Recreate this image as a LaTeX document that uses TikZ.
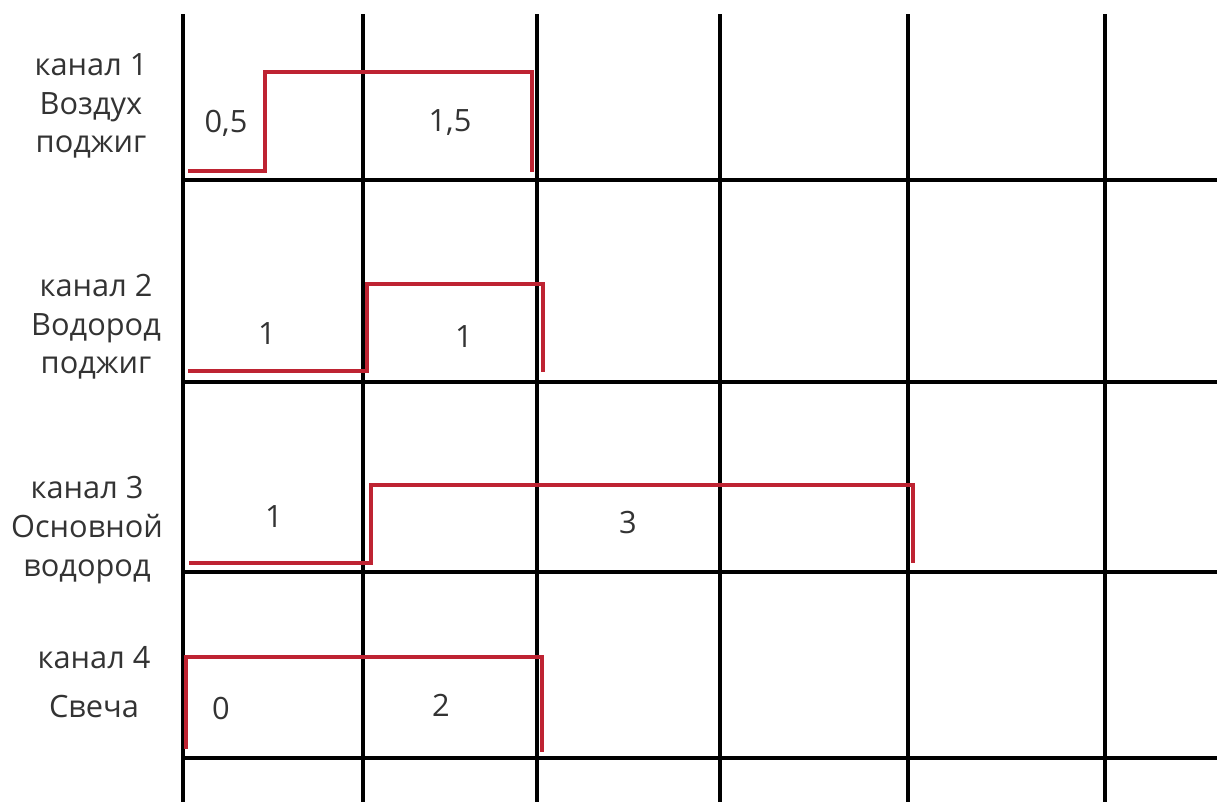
\documentclass[tikz,border=0pt]{standalone}
\usepackage{fontspec}
\setmainfont{Open Sans}
\usepackage{tikz}
\usetikzlibrary{positioning}
\definecolor{sigred}{RGB}{190,35,50}
\tikzset{
  gridline/.style={line width=2.7pt,black},
  signal/.style={line width=2.6pt,sigred,line join=miter},
  chlabel/.style={align=center,inner sep=0pt,text=black!80,font=\fontsize{17.5}{22}\selectfont},
  dur/.style={inner sep=0pt,text=black!80,font=\fontsize{17.5}{20}\selectfont}
}

\begin{document}
\begin{tikzpicture}[x=0.02cm,y=-0.02cm]
  \useasboundingbox (0,0) rectangle (1217,802);
  % grid
  \foreach \x in {183,363,537,720,908,1105}
    \draw[gridline] (\x,14) -- (\x,802);
  \foreach \y in {180,382,572,758}
    \draw[gridline] (181,\y) -- (1217,\y);
  % channel signals
  \draw[signal] (188,171) -- (265,171) -- (265,72) -- (532,72) -- (532,172);
  \draw[signal] (188,371) -- (367,371) -- (367,284) -- (543,284) -- (543,372);
  \draw[signal] (189,563) -- (371,563) -- (371,485) -- (913,485) -- (913,563);
  \draw[signal] (186,749) -- (186,657) -- (542,657) -- (542,752);
  % channel names
  \node[chlabel] (ch1) at (91,106) {канал 1\\Воздух\\поджиг};
  \node[chlabel] (ch2) at (96,327) {канал 2\\Водород\\поджиг};
  \node[chlabel] (ch3) at (87,530) {канал 3\\Основной\\водород};
  \node[chlabel] (ch4) at (94,682) {канал 4\\[0.2cm]Свеча};
  % durations
  \node[dur] (d1a) at (226,123) {0,5};
  \node[dur] (d1b) at (450,123) {1,5};
  \node[dur] (d2a) at (267,334) {1};
  \node[dur] (d2b) at (464,337) {1};
  \node[dur] (d3a) at (274,517) {1};
  \node[dur] (d3b) at (628,523) {3};
  \node[dur] (d4a) at (221,708) {0};
  \node[dur] (d4b) at (441,705) {2};
\end{tikzpicture}
\end{document}
